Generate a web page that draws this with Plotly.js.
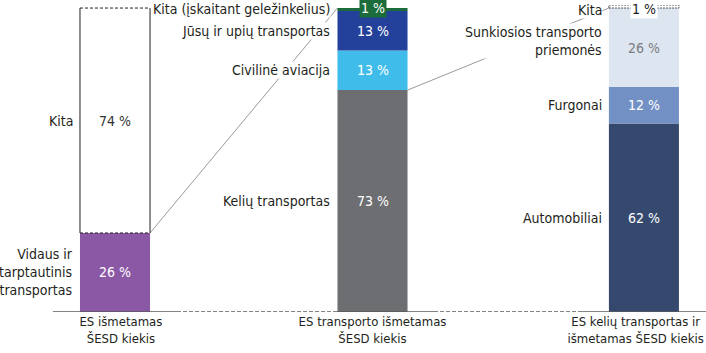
<!DOCTYPE html>
<html>
<head>
<meta charset="utf-8">
<script src="https://cdn.plot.ly/plotly-3.0.1.min.js"></script>
<style>html,body{margin:0;padding:0;background:#fff;}#chart{width:706px;height:353px;}</style>
</head>
<body>
<div id="chart"></div>
<script>
// ---- data ----
const categories = ['ES išmetamas<br>ŠESD kiekis', 'ES transporto išmetamas<br>ŠESD kiekis', 'ES kelių transportas ir<br>išmetamas ŠESD kiekis'];

const bar1Labels = ['Vidaus ir<br>tarptautinis<br>transportas', 'Kita'];
const bar1Values = [26, 74];

const bar2Labels = ['Kelių transportas', 'Civilinė aviacija', 'Jūsų ir upių transportas', 'Kita (įskaitant geležinkelius)'];
const bar2Values = [73, 13, 13, 1];

const bar3Labels = ['Automobiliai', 'Furgonai', 'Sunkiosios transporto<br>priemonės', 'Kita'];
const bar3Values = [62, 12, 26, 1];

// ---- styling / layout constants ----
const barPos = [0, 1, 2.054];
const tickPos = [0.023, 1, 2.022];
const barW = 0.272;
const hw = barW / 2;
const FONT = '"Liberation Sans Narrow", "DejaVu Sans Condensed", "Noto Sans", sans-serif';
const TXT = '#231f20';

const bars = [
  {labels: bar1Labels, values: bar1Values,
   colors: ['#8b58a6', '#ffffff'], textColors: ['#ffffff', '#333333'], boxed: [false, 'box1'], smallShift: 1},
  {labels: bar2Labels, values: bar2Values,
   colors: ['#6d6e72', '#3fbce9', '#23419a', '#1c6c3b'], textColors: ['#fff', '#fff', '#fff', '#fff'], boxed: [false, false, false, false], smallShift: 1},
  {labels: bar3Labels, values: bar3Values,
   colors: ['#35496f', '#7290c4', '#dce5f0', '#ffffff'], textColors: ['#fff', '#fff', '#7b7b80', '#222'], boxed: [false, false, false, 'box3'], smallShift: -3}
];

const traces = [];
const shapes = [];
const annotations = [];

bars.forEach((b, bi) => {
  const x = barPos[bi];
  let cum = 0;
  b.values.forEach((v, si) => {
    traces.push({
      type: 'bar', x: [x], y: [v], base: [cum], width: barW,
      marker: {color: b.colors[si], line: {width: 0}},
      hoverinfo: 'skip', showlegend: false, cliponaxis: false
    });
    const mid = cum + v / 2;
    const small = v < 3;
    annotations.push({
      x: x - hw, y: mid, xref: 'x', yref: 'y', xanchor: 'right', yanchor: 'middle',
      xshift: -6, yshift: (b.labels[si].indexOf('Sunkiosios') === 0) ? 7 : (small ? b.smallShift : 0),
      text: b.labels[si], showarrow: false, align: 'right',
      font: {family: FONT, size: 14, color: TXT}, bgcolor: '#ffffff', borderpad: 0
    });
    annotations.push({
      x: x, y: mid, xref: 'x', yref: 'y', xanchor: 'center', yanchor: 'middle',
      yshift: small ? b.smallShift + 1 : 0,
      text: v + ' %', showarrow: false,
      font: {family: FONT, size: 14, color: b.textColors[si]},
      bgcolor: small ? b.colors[si] : 'rgba(0,0,0,0)', borderpad: small ? 1 : 0
    });
    if (b.boxed[si] === 'box1') {
      shapes.push({type: 'line', xref: 'x', yref: 'y', x0: x - hw, x1: x - hw, y0: cum, y1: cum + v, line: {color: '#231f20', width: 1}});
      shapes.push({type: 'line', xref: 'x', yref: 'y', x0: x + hw, x1: x + hw, y0: cum, y1: cum + v, line: {color: '#231f20', width: 1}});
      shapes.push({type: 'line', xref: 'x', yref: 'y', x0: x - hw, x1: x + hw, y0: cum + v, y1: cum + v, line: {color: '#231f20', width: 1, dash: '3px,2px'}});
      shapes.push({type: 'line', xref: 'x', yref: 'y', x0: x - hw, x1: x + hw, y0: cum, y1: cum, line: {color: '#231f20', width: 1, dash: '3px,2px'}});
    }
    if (b.boxed[si] === 'box3') {
      shapes.push({type: 'rect', xref: 'x', yref: 'y', x0: x - hw, x1: x + hw, y0: cum, y1: cum + v, line: {color: '#555', width: 1, dash: '2px,1px'}, fillcolor: 'rgba(0,0,0,0)'});
    }
    cum += v;
  });
});

// connector lines (bar-of-bar)
const total2 = bar2Values.reduce((a, c) => a + c, 0);
shapes.push({type: 'line', xref: 'x', yref: 'y', layer: 'below',
  x0: barPos[0] + hw, y0: bar1Values[0], x1: barPos[1] - hw, y1: total2,
  line: {color: '#9a9a9a', width: 1}});
shapes.push({type: 'line', xref: 'x', yref: 'y', layer: 'below',
  x0: barPos[1] + hw, y0: bar2Values[0], x1: barPos[2] - hw, y1: total2,
  line: {color: '#9a9a9a', width: 1}});

// baseline: solid under bars, dashed between
const xMin = -0.4466, xMax = 2.2951;
const baseCol = '#5a5a5a';
shapes.push({type: 'line', xref: 'x', yref: 'y', x0: barPos[0] - 0.241, x1: barPos[0] + 0.241, y0: 0, y1: 0, line: {color: baseCol, width: 1.5}});
shapes.push({type: 'line', xref: 'x', yref: 'y', x0: barPos[0] + 0.241, x1: barPos[1] - 0.153, y0: 0, y1: 0, line: {color: baseCol, width: 1.5, dash: '4px,2px'}});
shapes.push({type: 'line', xref: 'x', yref: 'y', x0: barPos[1] - 0.153, x1: barPos[1] + 0.239, y0: 0, y1: 0, line: {color: baseCol, width: 1.5}});
shapes.push({type: 'line', xref: 'x', yref: 'y', x0: barPos[1] + 0.239, x1: barPos[2] - 0.24, y0: 0, y1: 0, line: {color: baseCol, width: 1.5, dash: '4px,2px'}});
shapes.push({type: 'line', xref: 'x', yref: 'y', x0: barPos[2] - 0.24, x1: xMax, y0: 0, y1: 0, line: {color: baseCol, width: 1.5}});

const layout = {
  width: 706, height: 353,
  margin: {l: 0, r: 0, t: 5, b: 41},
  paper_bgcolor: '#ffffff', plot_bgcolor: '#ffffff',
  barmode: 'overlay',
  showlegend: false,
  xaxis: {
    range: [xMin, xMax], tickvals: tickPos, ticktext: categories,
    showgrid: false, zeroline: false, showline: false, ticks: '',
    ticklabeloverflow: 'allow',
    tickfont: {family: FONT, size: 13, color: TXT}, fixedrange: true
  },
  yaxis: {range: [0, 101], visible: false, fixedrange: true},
  shapes: shapes,
  annotations: annotations
};

Plotly.newPlot('chart', traces, layout, {displayModeBar: false, staticPlot: true});
</script>
</body>
</html>
